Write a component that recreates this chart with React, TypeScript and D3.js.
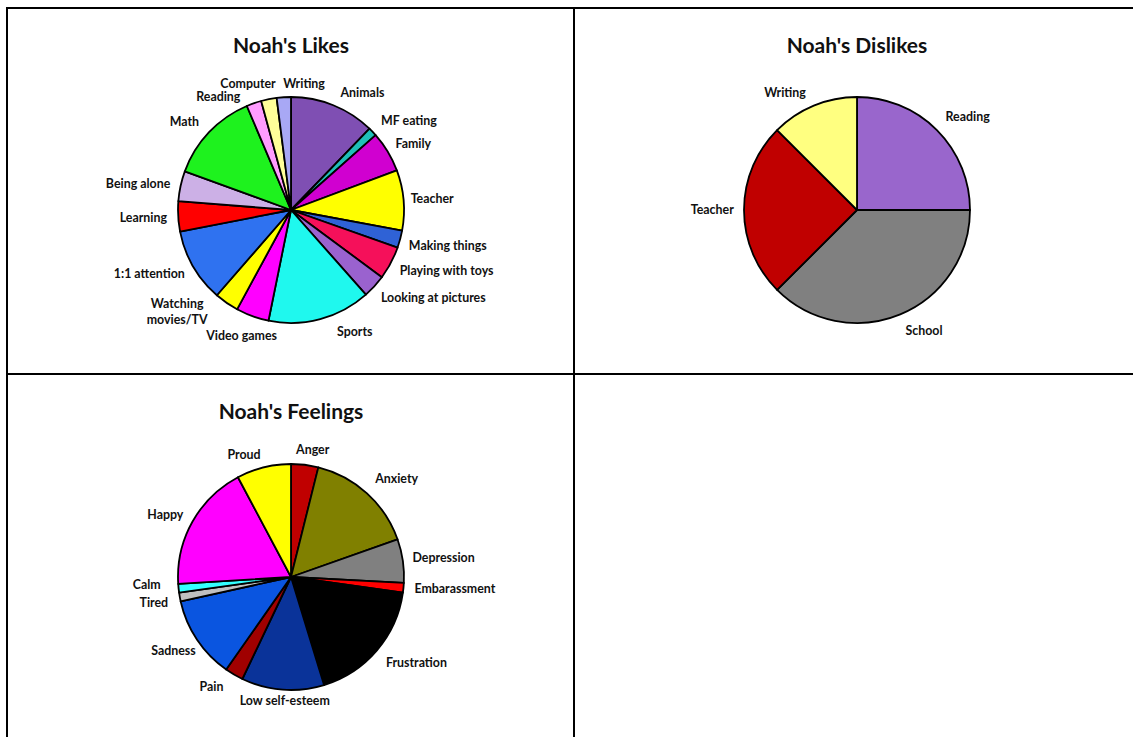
import React, { useEffect, useRef } from "react";
import * as d3 from "d3";

// ---- Data ----
const likesCategories = ["Animals", "MF eating", "Family", "Teacher", "Making things", "Playing with toys", "Looking at pictures", "Sports", "Video games", "Watching\nmovies/TV", "1:1 attention", "Learning", "Being alone", "Math", "Reading", "Computer", "Writing"];
const likesValues = [44, 4.5, 21, 31, 9, 17, 12, 53, 17, 12.5, 38, 15.5, 15.5, 47, 7.7, 8, 7.3];
const likesColors = ["#7f4fb3", "#1fbfb8", "#d000d0", "#ffff00", "#2f62d6", "#f5105a", "#9a62cf", "#1ff8ee", "#ff00ff", "#ffff00", "#2f72f0", "#ff0000", "#ccb0e6", "#1ef21e", "#ff9cff", "#ffff99", "#a8a8f5"];
const likesNudge = [[18, -1], [11, -2], [4, -1], [0, 0], [3, 3], [8, 2], [15, 3], [28, 0], [4, 7], [-28, -8], [-7, 1], [-4, 1], [-4, 0], [-9, -2], [-26, 6], [-14, -3], [22, -1]];

const dislikesCategories = ["Reading", "School", "Teacher", "Writing"];
const dislikesValues = [2, 3, 2, 1];
const dislikesColors = ["#9966cc", "#808080", "#c00000", "#ffff80"];
const dislikesNudge = [[10, -4], [14, 4], [-3, 0], [-18, -1]];

const feelingsCategories = ["Anger", "Anxiety", "Depression", "Embarassment", "Frustration", "Low self-esteem", "Pain", "Sadness", "Tired", "Calm", "Happy", "Proud"];
const feelingsValues = [14, 56.5, 22.5, 5, 65, 42.5, 9.5, 42.5, 4.5, 4.5, 65.5, 28];
const feelingsColors = ["#c00000", "#808000", "#808080", "#ff0000", "#000000", "#0a3399", "#a00000", "#0a55e0", "#c0c0c0", "#33ffff", "#ff00ff", "#ffff00"];
const feelingsNudge = [[5, -2], [10, -5], [3, -1], [4, 0], [11, 4], [6, -2], [-13, 1], [1, 4], [-5, 3], [-11, -5], [-5, -1], [-14, 0]];

const titles = ["Noah's Likes", "Noah's Dislikes", "Noah's Feelings"];

const W = 1133;
const H = 737;
const FONT = "Lato, 'Open Sans', sans-serif";

export default function App() {
  const ref = useRef<SVGSVGElement | null>(null);

  useEffect(() => {
    const svg = d3.select(ref.current);
    svg.selectAll("*").remove();

    // grid lines
    const g = svg.append("g").attr("stroke", "#000").attr("stroke-width", 2);
    g.append("line").attr("x1", 7).attr("x2", W).attr("y1", 8).attr("y2", 8);
    g.append("line").attr("x1", 7).attr("x2", 7).attr("y1", 7).attr("y2", H);
    g.append("line").attr("x1", 574).attr("x2", 574).attr("y1", 7).attr("y2", H);
    g.append("line").attr("x1", 7).attr("x2", W).attr("y1", 374).attr("y2", 374);

    const r = 113;
    const charts = [
      { cx: 291, cy: 210, ty: 46, cats: likesCategories, vals: likesValues, cols: likesColors, nudge: likesNudge, title: titles[0] },
      { cx: 857, cy: 210, ty: 46, cats: dislikesCategories, vals: dislikesValues, cols: dislikesColors, nudge: dislikesNudge, title: titles[1] },
      { cx: 291, cy: 577, ty: 412, cats: feelingsCategories, vals: feelingsValues, cols: feelingsColors, nudge: feelingsNudge, title: titles[2] },
    ];

    const pie = d3.pie<number>().sort(null).value((d) => d).startAngle(0).endAngle(2 * Math.PI);
    const arc = d3.arc<d3.PieArcDatum<number>>().innerRadius(0).outerRadius(r);

    charts.forEach((c) => {
      svg.append("text")
        .attr("x", c.cx)
        .attr("y", c.ty)
        .attr("text-anchor", "middle")
        .attr("dy", "0.35em")
        .attr("font-family", FONT)
        .attr("font-weight", 700)
        .attr("font-size", 21)
        .attr("fill", "#111")
        .text(c.title);

      const cg = svg.append("g").attr("transform", `translate(${c.cx},${c.cy})`);
      const arcs = pie(c.vals);
      cg.selectAll("path")
        .data(arcs)
        .join("path")
        .attr("d", arc as any)
        .attr("fill", (_d, i) => c.cols[i])
        .attr("stroke", "#000")
        .attr("stroke-width", 1.8)
        .attr("stroke-linejoin", "round");

      const R = r + 7;
      arcs.forEach((a, i) => {
        const th = (a.startAngle + a.endAngle) / 2;
        const s = Math.sin(th);
        const co = Math.cos(th);
        const lines = c.cats[i].split("\n");
        const t = cg.append("text")
          .attr("font-family", FONT)
          .attr("font-weight", 700)
          .attr("font-size", 12.4)
          .attr("fill", "#111")
          .attr("text-anchor", "middle");
        lines.forEach((ln, k) => {
          t.append("tspan").attr("x", 0).attr("dy", k === 0 ? 0 : 16).text(ln);
        });
        const bb = (t.node() as SVGTextElement).getBBox();
        const w = bb.width;
        const h = lines.length * 16 - 4;
        const x = R * s + (w / 2) * s + c.nudge[i][0];
        const yc = -R * co - (h / 2) * co + c.nudge[i][1];
        const y0 = yc - ((lines.length - 1) * 16) / 2;
        t.selectAll("tspan").attr("x", x);
        t.attr("y", y0).attr("dy", null);
        t.select("tspan").attr("y", y0).attr("dy", "0.35em");
        t.selectAll("tspan").filter((_d, k) => k > 0).attr("dy", 16);
      });
    });
  }, []);

  return (
    <svg
      ref={ref}
      width={W}
      height={H}
      style={{ position: "absolute", left: 0, top: 0, background: "#fff" }}
    />
  );
}
